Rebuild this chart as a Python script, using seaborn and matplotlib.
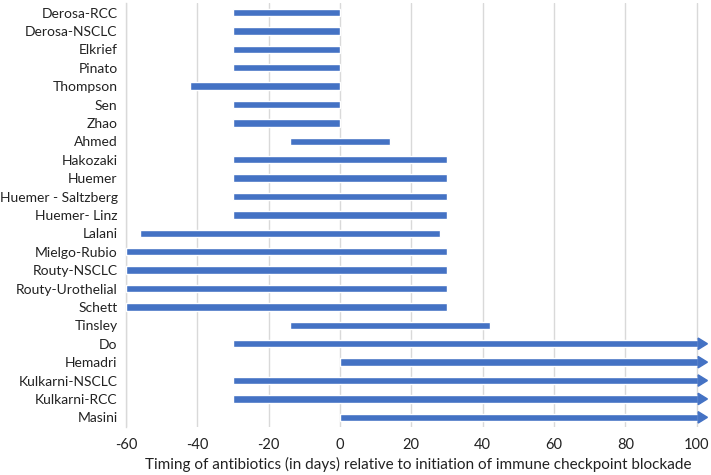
import numpy as np
import pandas as pd
import matplotlib
matplotlib.use("Agg")
import matplotlib.pyplot as plt
import matplotlib.patches as mpatches
import seaborn as sns

# study windows: start / end of antibiotic exposure (days vs ICI start)
studies = ["Derosa-RCC", "Derosa-NSCLC", "Elkrief", "Pinato", "Thompson", "Sen",
           "Zhao", "Ahmed", "Hakozaki", "Huemer", "Huemer - Saltzberg",
           "Huemer- Linz", "Lalani", "Mielgo-Rubio", "Routy-NSCLC",
           "Routy-Urothelial", "Schett", "Tinsley", "Do", "Hemadri",
           "Kulkarni-NSCLC", "Kulkarni-RCC", "Masini"]
start = [-30, -30, -30, -30, -42, -30, -30, -14, -30, -30, -30, -30, -56,
         -60, -60, -60, -60, -14, -30, 0, -30, -30, 0]
end = [0, 0, 0, 0, 0, 0, 0, 14, 30, 30, 30, 30, 28, 30, 30, 30, 30, 42,
       103, 103, 103, 103, 103]
open_ended = [False] * 18 + [True] * 5

df = pd.DataFrame({"study": studies, "start": start, "end": end, "open": open_ended})

sns.set_theme(style="white")
plt.rcParams["font.family"] = ["Lato", "DejaVu Sans"]
plt.rcParams["axes.unicode_minus"] = False

blue = "#4472C4"
fig, ax = plt.subplots(figsize=(7.11, 4.75), dpi=100)
fig.subplots_adjust(left=0.177, right=1.0, top=0.993, bottom=0.102)

ypos = np.arange(len(df))
bar_h = 0.4
head_len = 2.6
head_h = 0.62
body_end = np.where(df["open"], df["end"] - head_len, df["end"])
ax.barh(ypos, body_end - df["start"], left=df["start"], height=bar_h,
        color=blue, zorder=3)

# arrow heads for open-ended windows
for y, row in zip(ypos, df.itertuples()):
    if row.open:
        base = row.end - head_len
        tri = mpatches.Polygon([[base, y - head_h / 2], [base, y + head_h / 2],
                                [row.end, y]], closed=True, color=blue, zorder=3)
        ax.add_patch(tri)

ax.set_yticks(ypos)
ax.set_yticklabels(df["study"], fontsize=10, color="#222222")
ax.set_ylim(len(df) - 0.5, -0.5)
ax.set_xlim(-60, 104)
ax.set_xticks(np.arange(-60, 101, 20))
ax.tick_params(axis="x", labelsize=10.5, labelcolor="#222222", length=0, pad=8)
ax.tick_params(axis="y", length=0, pad=6)
ax.xaxis.grid(True, color="#d9d9d9", lw=1, zorder=0)
ax.set_xlabel("Timing of antibiotics (in days) relative to initiation of immune checkpoint blockade",
              fontsize=11, color="#222222", labelpad=4)

sns.despine(ax=ax, top=True, right=True, bottom=True, left=False)
ax.spines["left"].set_color("#d9d9d9")
ax.spines["left"].set_linewidth(1)

fig.savefig("out.png", dpi=100)
